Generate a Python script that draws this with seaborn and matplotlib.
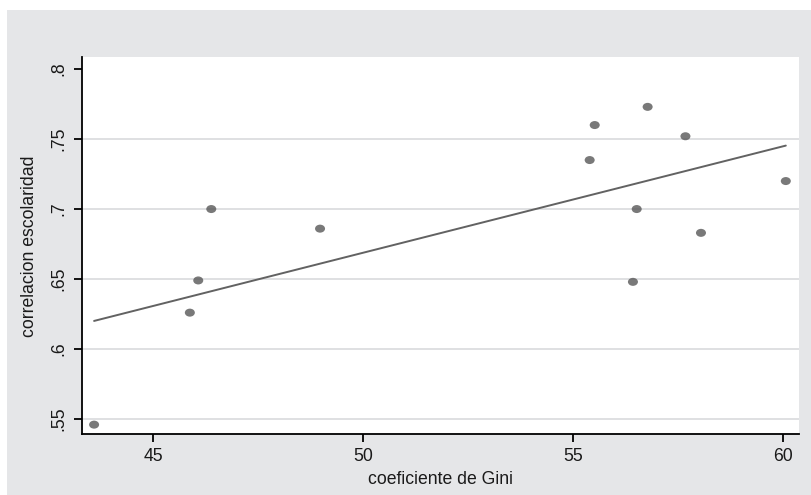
import matplotlib
matplotlib.use("Agg")
import matplotlib.pyplot as plt
import seaborn as sns
import pandas as pd
import numpy as np
from matplotlib.patches import Rectangle
from matplotlib.path import Path

gini = [43.59, 45.87, 46.07, 46.38, 48.97, 55.39, 55.51, 56.77, 57.67, 56.51, 56.42, 58.04, 60.06]
corr = [0.546, 0.626, 0.649, 0.700, 0.686, 0.735, 0.760, 0.773, 0.752, 0.700, 0.648, 0.683, 0.720]
x_ticks = [45, 50, 55, 60]
x_labels = ["45", "50", "55", "60"]
y_ticks = [0.55, 0.60, 0.65, 0.70, 0.75, 0.80]
y_labels = [".55", ".6", ".65", ".7", ".75", ".8"]
x_title = "coeficiente de Gini"
y_title = "correlacion escolaridad"

df = pd.DataFrame({"gini": gini, "corr": corr})

sns.set_theme(style="white")
plt.rcParams["font.family"] = ["Liberation Sans", "DejaVu Sans"]

W, H = 811, 495
fig = plt.figure(figsize=(W / 100, H / 100), dpi=100)
fig.patch.set_facecolor("white")
bg = "#e5e6e8"
fig.add_artist(Rectangle((7 / W, 0), 1 - 7 / W, 1 - 10 / H, transform=fig.transFigure,
                         facecolor=bg, edgecolor="none", zorder=-10))

left, right, top, bottom = 81.7, 799, 57.3, 434.3
ax = fig.add_axes([left / W, 1 - bottom / H, (right - left) / W, (bottom - top) / H])
ax.set_zorder(5)
ax.set_facecolor("white")

# slightly flattened ellipse marker, like the reference
circ = Path.unit_circle()
ell = Path(circ.vertices * np.array([1.0, 0.8]), circ.codes)

mark_col = "#575757"
sns.regplot(data=df, x="gini", y="corr", ax=ax, ci=None, truncate=True, marker=ell,
            scatter_kws=dict(s=52, color=mark_col, edgecolor="none", zorder=3),
            line_kws=dict(color="#626262", lw=1.4, zorder=2))

ax.set_xlim(43.295, 60.374)
ax.set_ylim(0.5391, 0.8084)
ax.set_xticks(x_ticks)
ax.set_xticklabels(x_labels)
ax.set_yticks(y_ticks)
ax.set_yticklabels(y_labels, rotation=90, va="center")

for yv in y_ticks[:-1]:
    ax.axhline(yv, color="#dfe0e2", lw=1.4, zorder=1)

for s in ["top", "right"]:
    ax.spines[s].set_visible(False)
for s in ["left", "bottom"]:
    ax.spines[s].set_color("black")
    ax.spines[s].set_linewidth(1.3)

ax.tick_params(axis="both", direction="out", length=6, width=1.3, color="black",
               labelsize=12.7, labelcolor="#1a1a1a", pad=4, bottom=True, left=True)
ax.set_xlabel(x_title, fontsize=12.7, color="#1a1a1a", labelpad=4)
ax.set_ylabel(y_title, fontsize=12.7, color="#1a1a1a", labelpad=9)

fig.savefig("out.png", dpi=100, facecolor=fig.get_facecolor())
